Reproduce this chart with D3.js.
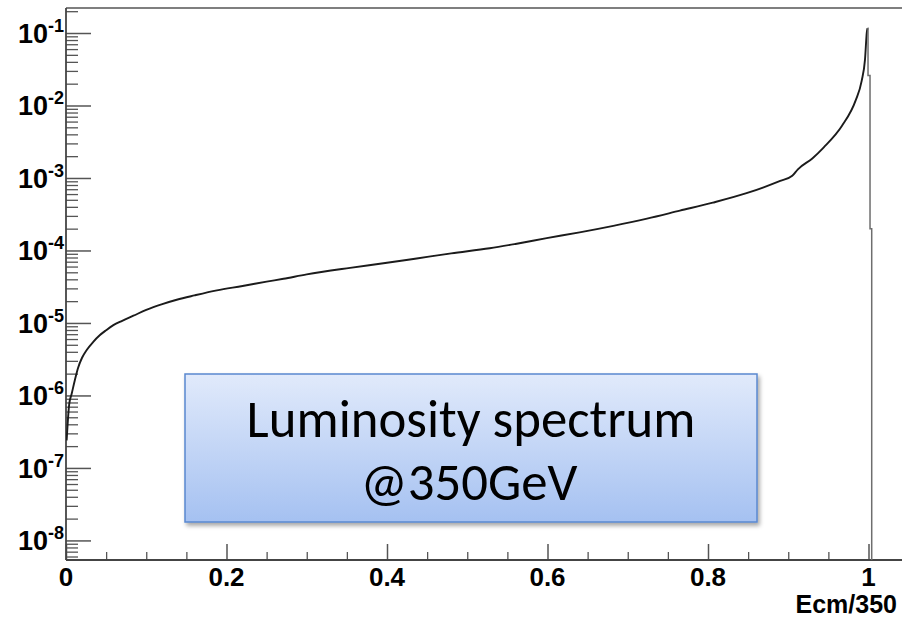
<!DOCTYPE html>
<html>
<head>
<meta charset="utf-8">
<script src="https://cdn.jsdelivr.net/npm/d3@7/dist/d3.min.js"></script>
<style>
  html, body { margin: 0; padding: 0; background: #fff; }
  svg { display: block; }
</style>
</head>
<body>
<svg id="chart" width="902" height="617"></svg>
<script>
// ---------- data ----------
const ecm = [0.0008, 0.002, 0.004, 0.007, 0.011, 0.015, 0.02, 0.026, 0.034, 0.042,
  0.05, 0.059, 0.07, 0.084, 0.1, 0.12, 0.138, 0.16, 0.188, 0.22,
  0.25, 0.271, 0.3, 0.354, 0.4, 0.437, 0.48, 0.528, 0.56, 0.599,
  0.64, 0.682, 0.724, 0.765, 0.806, 0.848, 0.89, 0.905, 0.912, 0.93,
  0.944, 0.967, 0.984, 0.9915, 0.9956, 0.998, 0.9988];
const lumiLog = [-6.62, -6.40, -6.12, -5.98, -5.79, -5.62, -5.48, -5.37, -5.26, -5.17,
  -5.10, -5.03, -4.97, -4.90, -4.82, -4.74, -4.68, -4.62, -4.55, -4.49,
  -4.43, -4.39, -4.33, -4.24, -4.17, -4.11, -4.04, -3.97, -3.91, -3.83,
  -3.75, -3.66, -3.56, -3.45, -3.34, -3.21, -3.04, -2.97, -2.88, -2.73,
  -2.58, -2.28, -1.93, -1.66, -1.37, -0.98, -0.935];
const lumi = lumiLog.map(v => Math.pow(10, v));
// histogram edge beyond the peak (0 = empty bin)
const tailEcm  = [0.9988, 0.9994, 0.9994, 1.0019, 1.0019, 1.0040, 1.0040];
const tailLumi = [0.116, 0.116, 0.026, 0.026, 2.0e-4, 2.0e-4, 0];

const xTickValues = [0, 0.2, 0.4, 0.6, 0.8, 1];
const xTickLabels = ["0", "0.2", "0.4", "0.6", "0.8", "1"];
const xMinorStep = 0.05;
const yExponents = [-1, -2, -3, -4, -5, -6, -7, -8];
const xTitle = "Ecm/350";
const boxLines = ["Luminosity spectrum", "@350GeV"];

// ---------- layout ----------
const svg = d3.select("#chart");
const plotLeft = 66, plotBottom = 560, plotTop = 8;
const pxPerUnit = 802.5;
const xMax = 1.06;

const x = d3.scaleLinear().domain([0, xMax]).range([plotLeft, plotLeft + pxPerUnit * xMax]);
const y = d3.scaleLog().domain([Math.pow(10, -8.27), Math.pow(10, -0.655)]).range([plotBottom, plotTop]);

const defs = svg.append("defs");
defs.append("clipPath").attr("id", "plotclip")
  .append("rect").attr("x", plotLeft).attr("y", plotTop).attr("width", 902 - plotLeft).attr("height", plotBottom - plotTop);

const grad = defs.append("linearGradient").attr("id", "boxgrad")
  .attr("x1", 0).attr("y1", 0).attr("x2", 0).attr("y2", 1);
grad.append("stop").attr("offset", "0%").attr("stop-color", "#e1eafb");
grad.append("stop").attr("offset", "100%").attr("stop-color", "#a5c1f1");

const sh = defs.append("filter").attr("id", "shadow")
  .attr("x", "-5%").attr("y", "-5%").attr("width", "115%").attr("height", "120%");
sh.append("feDropShadow").attr("dx", 2).attr("dy", 3).attr("stdDeviation", 2)
  .attr("flood-color", "#000").attr("flood-opacity", 0.35);

// frame: top line
svg.append("line").attr("x1", plotLeft).attr("x2", 902).attr("y1", plotTop).attr("y2", plotTop)
  .attr("stroke", "#555").attr("stroke-width", 1.5);

// ---------- y axis ----------
const [yLo, yHi] = y.domain();
const yMinor = [];
for (let e = -9; e <= 0; e++) {
  for (let m = 2; m <= 9; m++) {
    const v = m * Math.pow(10, e);
    if (v >= yLo && v <= yHi) yMinor.push(v);
  }
}
const yMajor = yExponents.map(e => Math.pow(10, e));

const yAxisMinor = d3.axisRight(y).tickValues(yMinor).tickSize(12).tickFormat("");
const yAxisMajor = d3.axisRight(y).tickValues(yMajor).tickSize(25).tickFormat("");
svg.append("g").attr("transform", `translate(${plotLeft},0)`).call(yAxisMinor)
  .call(g => g.select(".domain").remove())
  .selectAll("line").attr("stroke", "#555").attr("stroke-width", 1.3);
svg.append("g").attr("transform", `translate(${plotLeft},0)`).call(yAxisMajor)
  .call(g => g.select(".domain").remove())
  .selectAll("line").attr("stroke", "#555").attr("stroke-width", 1.5);

// y labels 10^n
const ylab = svg.append("g").attr("font-family", "'Liberation Sans', Arial, sans-serif")
  .attr("font-weight", "bold").attr("fill", "#000");
yExponents.forEach(e => {
  const t = ylab.append("text")
    .attr("x", 64).attr("y", y(Math.pow(10, e)) + 10)
    .attr("text-anchor", "end").attr("font-size", 27);
  t.append("tspan").text("10");
  t.append("tspan").attr("dy", -11).attr("font-size", 18).text(String(e));
});

// ---------- x axis ----------
const xMinor = d3.range(0, 1.0001, xMinorStep).filter(v => !xTickValues.some(t => Math.abs(t - v) < 1e-6));
const xAxisMinor = d3.axisTop(x).tickValues(xMinor).tickSize(8).tickFormat("");
const xAxisMajor = d3.axisTop(x).tickValues(xTickValues).tickSize(16).tickFormat("");
svg.append("g").attr("transform", `translate(0,${plotBottom})`).call(xAxisMinor)
  .call(g => g.select(".domain").remove())
  .selectAll("line").attr("stroke", "#555").attr("stroke-width", 1.3);
svg.append("g").attr("transform", `translate(0,${plotBottom})`).call(xAxisMajor)
  .call(g => g.select(".domain").remove())
  .selectAll("line").attr("stroke", "#555").attr("stroke-width", 1.5);

svg.append("g").selectAll("text").data(xTickValues).join("text")
  .attr("x", d => x(d)).attr("y", 586)
  .attr("text-anchor", "middle")
  .attr("font-family", "'Liberation Sans', Arial, sans-serif")
  .attr("font-weight", "bold").attr("font-size", 26)
  .text((d, i) => xTickLabels[i]);

svg.append("text").attr("x", 897).attr("y", 613).attr("text-anchor", "end")
  .attr("font-family", "'Liberation Sans', Arial, sans-serif")
  .attr("font-weight", "bold").attr("font-size", 25).text(xTitle);

// axis lines
svg.append("line").attr("x1", plotLeft).attr("x2", 902).attr("y1", plotBottom).attr("y2", plotBottom)
  .attr("stroke", "#444").attr("stroke-width", 1.8);
svg.append("line").attr("x1", plotLeft).attr("x2", plotLeft).attr("y1", plotTop).attr("y2", plotBottom)
  .attr("stroke", "#444").attr("stroke-width", 1.8);

// ---------- curve ----------
const plot = svg.append("g").attr("clip-path", "url(#plotclip)");
const pts = ecm.map((v, i) => [v, lumi[i]]);
plot.append("path").datum(pts)
  .attr("fill", "none").attr("stroke", "#1b1b1b").attr("stroke-width", 1.9)
  .attr("stroke-linejoin", "round")
  .attr("d", d3.line().curve(d3.curveMonotoneX).x(d => x(d[0])).y(d => y(d[1])));

const tail = tailEcm.map((v, i) => [v, tailLumi[i]]);
plot.append("path").datum(tail)
  .attr("fill", "none").attr("stroke", "#6e6e6e").attr("stroke-width", 1.5)
  .attr("d", d3.line().x(d => x(d[0])).y(d => d[1] > 0 ? y(d[1]) : plotBottom + 2));

// ---------- annotation box ----------
const bx = 185, by = 374, bw = 572, bh = 148;
svg.append("rect").attr("x", bx).attr("y", by).attr("width", bw).attr("height", bh)
  .attr("fill", "url(#boxgrad)").attr("stroke", "#5a88cf").attr("stroke-width", 1.5)
  .attr("filter", "url(#shadow)");
const boxFont = "Carlito, Calibri, Lato, 'Open Sans', sans-serif";
const bt1 = svg.append("text").attr("x", bx + bw / 2).attr("y", 437)
  .attr("text-anchor", "middle").attr("font-family", boxFont).attr("font-size", 50)
  .attr("fill", "#000").text(boxLines[0]);
const bt2 = svg.append("text").attr("x", bx + bw / 2 - 2).attr("y", 500)
  .attr("text-anchor", "middle").attr("font-family", boxFont).attr("font-size", 50)
  .attr("fill", "#000").text(boxLines[1]);
// fit the first line to the width seen in the reference
const w1 = bt1.node().getComputedTextLength();
const fs = 50 * 449 / w1;
bt1.attr("font-size", fs);
bt2.attr("font-size", fs);
</script>
</body>
</html>
